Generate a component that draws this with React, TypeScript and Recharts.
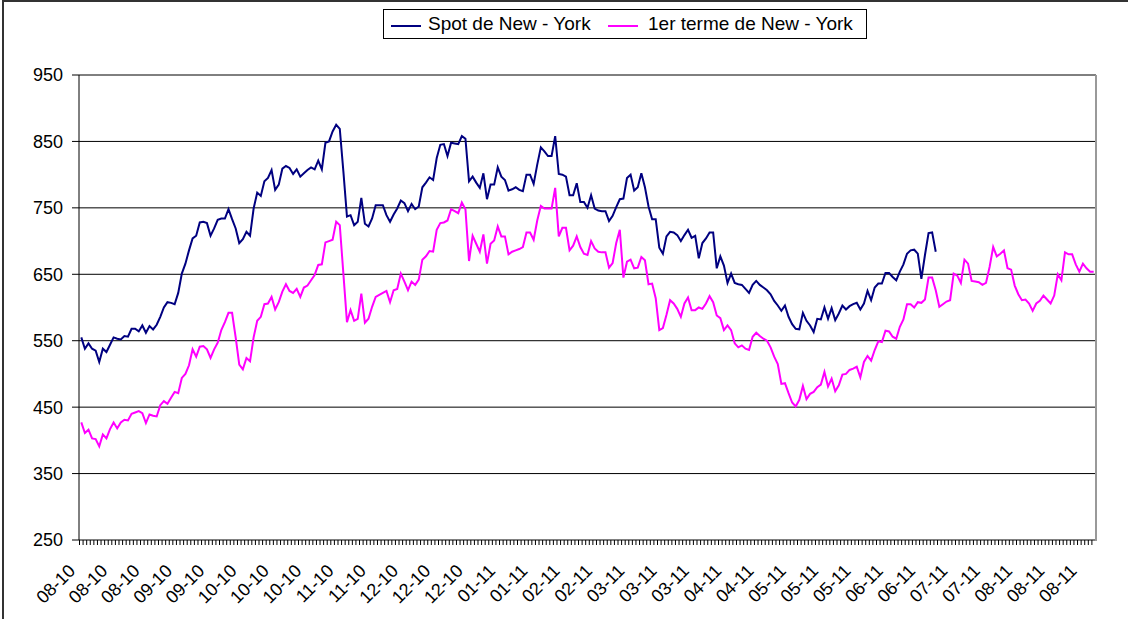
import React from "react"
import { LineChart, Line, XAxis, YAxis, CartesianGrid } from "recharts"

const FONT = "'Liberation Sans', Arial, sans-serif"

// one label every 9 trading days, as on the original axis
const tickLabels = [
  "08-10", "08-10", "08-10", "09-10", "09-10", "10-10", "10-10", "10-10",
  "11-10", "11-10", "12-10", "12-10", "12-10", "01-11", "01-11", "02-11",
  "02-11", "03-11", "03-11", "03-11", "04-11", "04-11", "05-11", "05-11",
  "05-11", "06-11", "06-11", "07-11", "07-11", "08-11", "08-11", "08-11",
]
const LABEL_STEP = 9

const yTicks = [250, 350, 450, 550, 650, 750, 850, 950]

// Spot de New - York (stops in late June 2011)
const spot = [
  555, 538, 546, 538, 535, 518, 538, 533, 544, 555, 553, 552, 557, 556, 568, 568, 564, 573, 562, 572,
  567, 574, 586, 600, 608, 607, 605, 622, 651, 666, 686, 704, 708, 728, 729, 727, 708, 719, 732, 734,
  734, 748, 733, 719, 697, 703, 714, 708, 749, 773, 768, 790, 795, 807, 777, 785, 809, 813, 810, 801,
  808, 797, 802, 807, 811, 808, 821, 808, 848, 850,
  865, 875, 869, 805, 737, 739, 724, 729, 765, 726, 722, 734, 754, 754, 754, 739, 729, 740, 749, 761,
  757, 745, 756, 748, 752, 781, 788, 796, 792, 825, 845, 846, 828, 848, 847, 846, 858, 854, 790, 797,
  788, 780, 802, 763, 785, 785, 811, 797, 792, 776, 778, 781, 777, 775, 800, 800, 786, 815, 841, 835,
  828, 828, 858, 801,
  800, 797, 769, 769, 787, 759, 759, 750, 769, 749, 746, 745, 745, 730, 738, 751, 763, 764, 795, 800,
  776, 781, 802, 781, 752, 733, 733, 690, 681, 707, 714, 713, 709, 700, 709, 717, 705, 708, 674, 697,
  704, 713, 713, 659, 677, 663, 637, 651, 637, 635, 634, 628, 622, 634, 640, 634, 630, 626, 620, 610,
  603, 595, 603, 586, 575, 568, 567,
  592, 580, 573, 563, 583, 582, 600, 583, 599, 581, 591, 603, 597, 602, 605, 607, 597, 606, 625, 611,
  630, 636, 636, 652, 652, 646, 641, 654, 665, 681, 686, 687, 681, 643, 679, 712, 713, 684,
]

// 1er terme de New - York
const terme = [
  427, 411, 416, 403, 402, 391, 409, 403, 417, 427, 418, 427, 431, 430, 440, 442, 444, 441, 426, 439,
  437, 436, 453, 459, 455, 464, 473, 471, 494, 500, 513, 537, 526, 541, 542, 537, 524, 537, 547, 566,
  578, 592, 592, 555, 514, 507, 524, 519, 555, 580, 586, 605, 606, 616, 597, 608, 624, 635, 625, 622,
  628, 616, 630, 633, 641, 649, 664, 665, 698, 700,
  702, 729, 724, 651, 578, 596, 580, 583, 621, 577, 583, 601, 616, 619, 622, 625, 608, 626, 628, 651,
  639, 626, 639, 634, 642, 672, 677, 685, 684, 717, 727, 728, 731, 748, 745, 742, 758, 748, 670, 708,
  696, 684, 710, 666, 696, 701, 722, 707, 707, 680, 684, 686, 688, 691, 713, 713, 702, 731, 753, 749,
  749, 749, 780, 707,
  720, 720, 686, 693, 707, 691, 681, 679, 700, 689, 684, 683, 683, 660, 667, 697, 717, 645, 669, 672,
  659, 660, 676, 671, 635, 636, 614, 566, 569, 589, 611, 606, 598, 586, 606, 615, 596, 596, 600, 598,
  606, 617, 608, 588, 584, 566, 573, 566, 546, 540, 543, 538, 536, 556, 562, 557, 553, 550, 540, 526,
  515, 485, 486, 471, 457, 451, 461,
  482, 462, 470, 473, 480, 484, 503, 481, 493, 474, 483, 499, 500, 506, 508, 511, 495, 518, 527, 520,
  536, 549, 548, 565, 564, 556, 553, 571, 582, 605, 605, 600, 608, 607, 612, 645, 645, 626, 601, 605,
  609, 611, 651, 648, 637, 672, 666, 640, 639, 638, 634, 637, 661, 691, 677, 681, 686, 659, 657, 633,
  620, 611, 612, 606, 595, 606, 610, 618, 612, 606, 618, 650, 641, 683, 680, 680, 665, 654, 666, 659,
  654, 654,
]

const data = terme.map((t, i) => ({
  date: tickLabels[Math.min(Math.floor(i / LABEL_STEP), tickLabels.length - 1)],
  spot: i < spot.length ? spot[i] : null,
  terme: t,
}))

function DateTick(props: any) {
  const { x, y, index, payload } = props
  const showLabel = index % LABEL_STEP === 0
  const lx = x - 5
  const ly = y + 32
  return (
    <g>
      <line x1={x - 1.8} x2={x - 1.8} y1={y} y2={y + 5} stroke="#000" strokeWidth={1} />
      {showLabel && (
        <text
          x={lx}
          y={ly}
          transform={`rotate(-45, ${lx}, ${ly})`}
          textAnchor="end"
          fontSize={18}
          fontFamily={FONT}
          fill="#000"
        >
          {payload.value}
        </text>
      )}
    </g>
  )
}

function LegendBox() {
  return (
    <div
      style={{
        position: "absolute",
        left: 383,
        top: 9,
        width: 482,
        height: 28,
        border: "1px solid #000",
        background: "#fff",
        fontFamily: FONT,
        fontSize: 19,
        color: "#000",
      }}
    >
      <div style={{ position: "absolute", left: 7, top: 15, width: 30, height: 2, background: "#000080" }} />
      <div style={{ position: "absolute", left: 44, top: 2, whiteSpace: "nowrap", lineHeight: "24px" }}>
        Spot de New - York
      </div>
      <div style={{ position: "absolute", left: 224, top: 15, width: 30, height: 2, background: "#FF00FF" }} />
      <div style={{ position: "absolute", left: 264, top: 2, whiteSpace: "nowrap", lineHeight: "24px" }}>
        1er terme de New - York
      </div>
    </div>
  )
}

export default function App() {
  return (
    <div
      style={{
        position: "absolute",
        left: 0,
        top: 0,
        width: 1128,
        height: 619,
        background: "#fff",
        overflow: "hidden",
      }}
    >
      {/* outer chart frame */}
      <div style={{ position: "absolute", left: 2, top: 0, width: 1126, height: 619, borderLeft: "2px solid #333", borderTop: "2px solid #333", boxSizing: "border-box" }} />

      <LineChart width={1128} height={619} data={data} margin={{ top: 75, right: 32, bottom: 0, left: 0 }}>
        <CartesianGrid vertical={false} stroke="#000" strokeWidth={1} />
        <XAxis
          dataKey="date"
          interval={0}
          height={79}
          padding={{ left: 2.3, right: 2.3 }}
          axisLine={{ stroke: "#808080" }}
          tickLine={false}
          tickSize={0}
          tickMargin={0}
          tick={<DateTick />}
        />
        <YAxis
          domain={[250, 950]}
          ticks={yTicks}
          width={79}
          tickSize={7}
          tickMargin={9}
          axisLine={{ stroke: "#000" }}
          tickLine={{ stroke: "#000" }}
          tick={{ fontSize: 18, fill: "#000", fontFamily: FONT }}
          allowDataOverflow
        />
        <Line
          type="linear"
          dataKey="spot"
          stroke="#000080"
          strokeWidth={2}
          dot={false}
          activeDot={false}
          connectNulls={false}
          isAnimationActive={false}
        />
        <Line
          type="linear"
          dataKey="terme"
          stroke="#FF00FF"
          strokeWidth={2}
          dot={false}
          activeDot={false}
          isAnimationActive={false}
        />
      </LineChart>

      {/* plot area right border */}
      <div style={{ position: "absolute", left: 1095, top: 75, width: 2, height: 466, background: "#999" }} />

      <LegendBox />
    </div>
  )
}
